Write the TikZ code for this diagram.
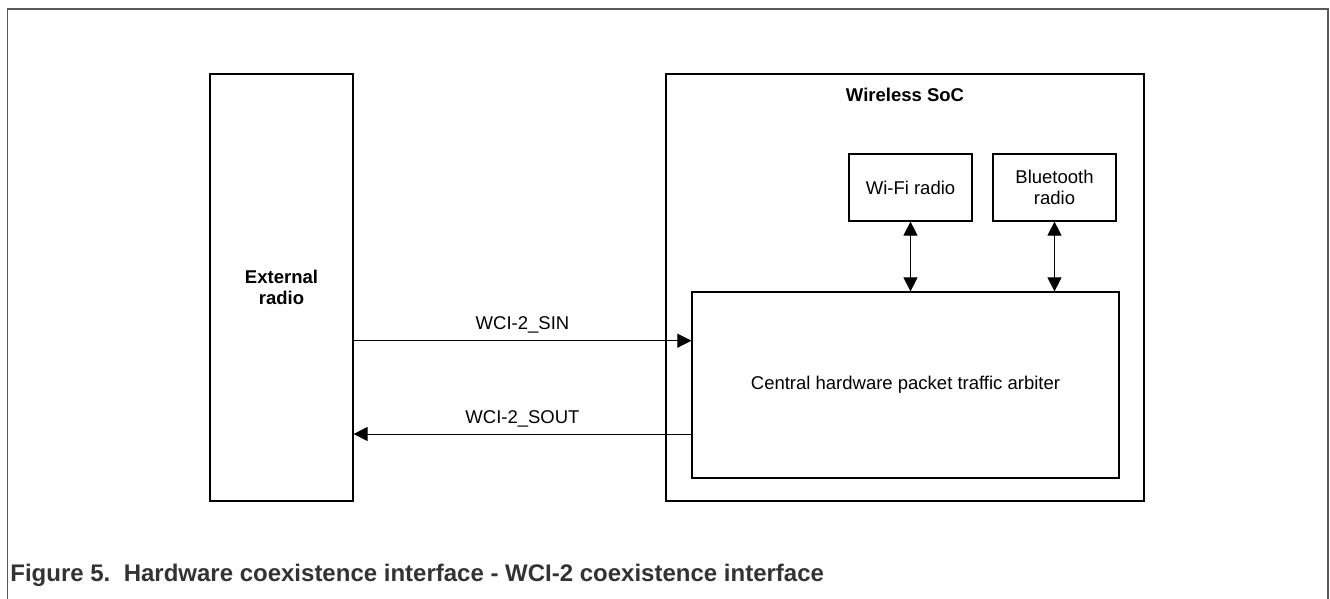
\documentclass[tikz,border=0pt]{standalone}
\usepackage{fontspec}
\setmainfont{Liberation Sans}
\usetikzlibrary{arrows.meta}
\definecolor{framegray}{RGB}{90,90,90}
\definecolor{capgray}{RGB}{51,51,51}

\begin{document}
\begin{tikzpicture}[x=0.5pt, y=-0.5pt,
    font=\fontsize{9.25}{10.75}\selectfont,
    box/.style={draw=black, line width=0.6pt, align=center, inner sep=0pt},
    sig/.style={line width=0.5pt, -{Triangle[length=7pt, width=7pt]}},
    bisig/.style={line width=0.5pt, {Triangle[length=7pt, width=7pt]}-{Triangle[length=7pt, width=7pt]}}]
      \useasboundingbox (0,0) rectangle (1330,599);
      \draw[framegray, line width=0.7pt] (7.5,599) -- (7.5,9) -- (1328,9) -- (1328,599);
      \node[box, minimum width=71.5pt, minimum height=213.5pt, font=\fontsize{9.25}{10.75}\selectfont\bfseries] (ext) at (281.5,287.5) {External\\radio};
      \node[box, minimum width=239pt, minimum height=213.5pt] (soc) at (905,287.5) {};
      \node[font=\fontsize{9.25}{10.75}\selectfont\bfseries] (soctitle) at (905,95) {Wireless SoC};
      \node[box, minimum width=61.5pt, minimum height=33.5pt] (wifi) at (910.5,187.5) {Wi-Fi radio};
      \node[box, minimum width=61.5pt, minimum height=33.5pt] (bt) at (1054.5,187.5) {Bluetooth\\radio};
      \node[box, minimum width=213.5pt, minimum height=93pt] (arb) at (905.5,385) {Central hardware packet traffic arbiter};
      \coordinate (sinL) at ([yshift=-26.6pt]ext.east);
      \coordinate (soutL) at ([yshift=-73.25pt]ext.east);
      \draw[sig] (sinL) -- node[midway, above] {WCI-2\_SIN} (sinL -| arb.west);
      \draw[sig] (soutL -| arb.west) -- node[midway, above] {WCI-2\_SOUT} (soutL);
      \draw[bisig] (wifi.south) -- (wifi.south |- arb.north);
      \draw[bisig] (bt.south) -- (bt.south |- arb.north);
      \node[anchor=west, inner sep=0pt, text=capgray, font=\fontsize{12}{14}\selectfont\bfseries] (cap) at (10,575) {Figure 5.\ \ Hardware coexistence interface - WCI-2 coexistence interface};
    \end{tikzpicture}
\end{document}
